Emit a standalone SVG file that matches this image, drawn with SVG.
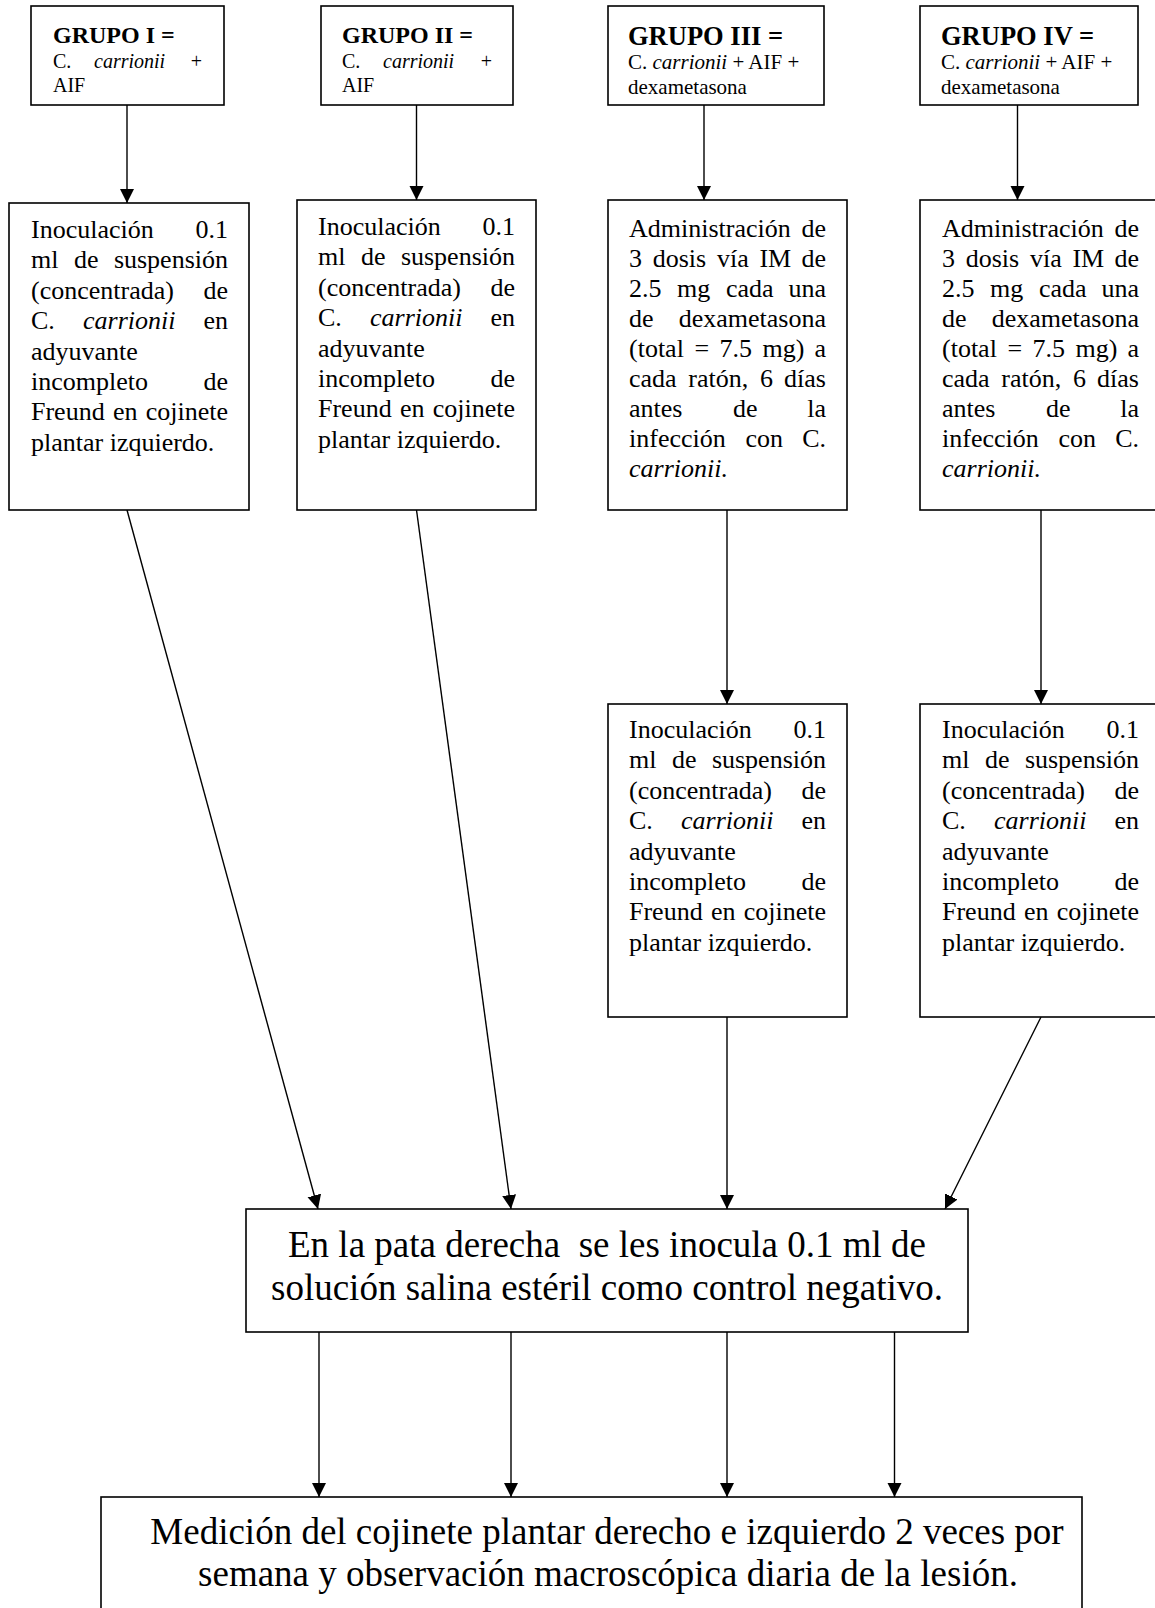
<svg xmlns="http://www.w3.org/2000/svg" xmlns:xlink="http://www.w3.org/1999/xlink" width="1155" height="1608" viewBox="0 0 1155 1608">
<style>
  text { font-family: "Liberation Serif", "Times New Roman", serif; fill: #000; }
  .box { fill: #fff; stroke: #000; stroke-width: 1.6; }
  .t { font-size: 26px; }
  .r { text-anchor: end; }
  .i { font-style: italic; }
  .ttl1 { font-size: 24px; font-weight: bold; }
  .ttl2 { font-size: 26.5px; font-weight: bold; }
  .s1 { font-size: 20px; }
  .s2 { font-size: 21px; }
  .big { font-size: 37px; text-anchor: middle; white-space: pre; }
  .con { stroke: #000; stroke-width: 1.4; fill: none; marker-end: url(#ah); }
</style>
<defs>
  <marker id="ah" markerUnits="userSpaceOnUse" markerWidth="14" markerHeight="16" viewBox="0 0 14 16" refX="14" refY="8" orient="auto">
    <path d="M0,1 L14,8 L0,15 Z" fill="#000"/>
  </marker>
  <g id="inoc" class="t">
    <text x="0" y="0">Inoculación</text><text class="r" x="197" y="0">0.1</text>
    <text x="0" y="30.4">ml</text><text x="43" y="30.4">de</text><text class="r" x="197" y="30.4">suspensión</text>
    <text x="0" y="60.8">(concentrada)</text><text class="r" x="197" y="60.8">de</text>
    <text x="0" y="91.2">C.</text><text class="i" x="52" y="91.2">carrionii</text><text class="r" x="197" y="91.2">en</text>
    <text x="0" y="121.6">adyuvante</text>
    <text x="0" y="152">incompleto</text><text class="r" x="197" y="152">de</text>
    <text x="0" y="182.4">Freund</text><text x="82" y="182.4">en</text><text class="r" x="197" y="182.4">cojinete</text>
    <text x="0" y="212.8">plantar izquierdo.</text>
  </g>
  <g id="admin" class="t">
    <text x="0" y="0">Administración</text><text class="r" x="197" y="0">de</text>
    <text x="0" y="30.1">3</text><text x="23.7" y="30.1">dosis</text><text x="88" y="30.1">vía</text><text x="130.4" y="30.1">IM</text><text class="r" x="197" y="30.1">de</text>
    <text x="0" y="60.2">2.5</text><text x="48" y="60.2">mg</text><text x="97" y="60.2">cada</text><text class="r" x="197" y="60.2">una</text>
    <text x="0" y="90.3">de</text><text class="r" x="197" y="90.3">dexametasona</text>
    <text x="0" y="120.4">(total</text><text x="65.4" y="120.4">=</text><text x="90.6" y="120.4">7.5</text><text x="133.6" y="120.4">mg)</text><text class="r" x="197" y="120.4">a</text>
    <text x="0" y="150.5">cada</text><text x="59.3" y="150.5">ratón,</text><text x="131" y="150.5">6</text><text class="r" x="197" y="150.5">días</text>
    <text x="0" y="180.6">antes</text><text x="104" y="180.6">de</text><text class="r" x="197" y="180.6">la</text>
    <text x="0" y="210.7">infección</text><text x="116.5" y="210.7">con</text><text class="r" x="197" y="210.7">C.</text>
    <text class="i" x="0" y="240.8">carrionii.</text>
  </g>
</defs>

<g id="connectors">
  <line class="con" x1="127" y1="105" x2="127" y2="203"/>
  <line class="con" x1="416.5" y1="105" x2="416.5" y2="200"/>
  <line class="con" x1="704" y1="105" x2="704" y2="200"/>
  <line class="con" x1="1017.5" y1="105" x2="1017.5" y2="200"/>
  <line class="con" x1="727" y1="510" x2="727" y2="704"/>
  <line class="con" x1="1041" y1="510" x2="1041" y2="704"/>
  <line class="con" x1="127" y1="510" x2="318" y2="1209"/>
  <line class="con" x1="416.5" y1="510" x2="511" y2="1209"/>
  <line class="con" x1="727" y1="1017" x2="727" y2="1209"/>
  <line class="con" x1="1041" y1="1017" x2="945" y2="1209"/>
  <line class="con" x1="319" y1="1332" x2="319" y2="1497"/>
  <line class="con" x1="511" y1="1332" x2="511" y2="1497"/>
  <line class="con" x1="727" y1="1332" x2="727" y2="1497"/>
  <line class="con" x1="894.5" y1="1332" x2="894.5" y2="1497"/>
</g>

<g id="grupo1">
  <rect class="box" x="31" y="6" width="193" height="99"/>
  <text class="ttl1" x="53" y="43">GRUPO I =</text>
  <text class="s1" x="53" y="68">C.</text><text class="s1 i" x="94" y="68">carrionii</text><text class="s1 r" x="202" y="68">+</text>
  <text class="s1" x="53" y="92">AIF</text>
</g>
<g id="grupo2">
  <rect class="box" x="321" y="6" width="192" height="99"/>
  <text class="ttl1" x="342" y="43">GRUPO II =</text>
  <text class="s1" x="342" y="68">C.</text><text class="s1 i" x="383" y="68">carrionii</text><text class="s1 r" x="492" y="68">+</text>
  <text class="s1" x="342" y="92">AIF</text>
</g>
<g id="grupo3">
  <rect class="box" x="608" y="6" width="216" height="99"/>
  <text class="ttl2" x="628" y="45">GRUPO III =</text>
  <text class="s2" x="628" y="69">C. <tspan class="i">carrionii</tspan> + AIF +</text>
  <text class="s2" x="628" y="94">dexametasona</text>
</g>
<g id="grupo4">
  <rect class="box" x="920" y="6" width="218" height="99"/>
  <text class="ttl2" x="941" y="45">GRUPO IV =</text>
  <text class="s2" x="941" y="69">C. <tspan class="i">carrionii</tspan> + AIF +</text>
  <text class="s2" x="941" y="94">dexametasona</text>
</g>

<g id="inoc1">
  <rect class="box" x="9" y="203" width="240" height="307"/>
  <use xlink:href="#inoc" href="#inoc" transform="translate(31,238)"/>
</g>
<g id="inoc2">
  <rect class="box" x="297" y="200" width="239" height="310"/>
  <use xlink:href="#inoc" href="#inoc" transform="translate(318,235)"/>
</g>
<g id="admin3">
  <rect class="box" x="608" y="200" width="239" height="310"/>
  <use xlink:href="#admin" href="#admin" transform="translate(629,236.5)"/>
</g>
<g id="admin4">
  <rect class="box" x="920" y="200" width="250" height="310"/>
  <use xlink:href="#admin" href="#admin" transform="translate(942,236.5)"/>
</g>
<g id="inoc3">
  <rect class="box" x="608" y="704" width="239" height="313"/>
  <use xlink:href="#inoc" href="#inoc" transform="translate(629,738)"/>
</g>
<g id="inoc4">
  <rect class="box" x="920" y="704" width="250" height="313"/>
  <use xlink:href="#inoc" href="#inoc" transform="translate(942,738)"/>
</g>

<g id="control">
  <rect class="box" x="246" y="1209" width="722" height="123"/>
  <text class="big" x="607" y="1257">En la pata derecha  se les inocula 0.1 ml de</text>
  <text class="big" x="607" y="1300">solución salina estéril como control negativo.</text>
</g>
<g id="medicion">
  <rect class="box" x="101" y="1497" width="981" height="130"/>
  <text class="big" x="607" y="1544">Medición del cojinete plantar derecho e izquierdo 2 veces por</text>
  <text class="big" x="608" y="1586">semana y observación macroscópica diaria de la lesión.</text>
</g>
</svg>
